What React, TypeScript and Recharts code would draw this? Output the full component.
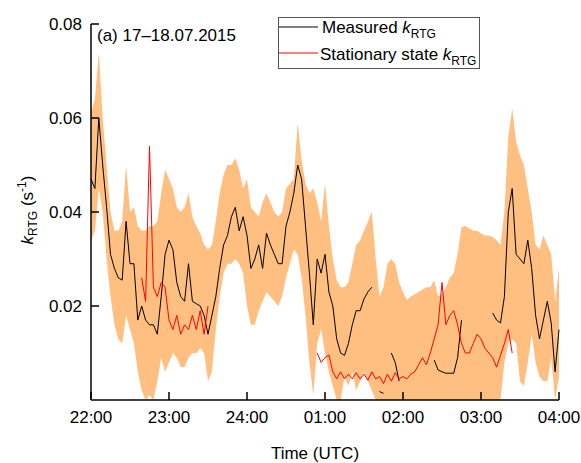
import React from "react";
import { ComposedChart, Area, Line, XAxis, YAxis } from "recharts";

// minutes after 22:00, 3-minute steps
const minutes = [
  0, 3, 6, 9, 12, 15, 18, 21, 24, 27, 30, 33, 36, 39, 42, 45, 48, 51, 54, 57,
  60, 63, 66, 69, 72, 75, 78, 81, 84, 87, 90, 93, 96, 99, 102, 105, 108, 111, 114, 117,
  120, 123, 126, 129, 132, 135, 138, 141, 144, 147, 150, 153, 156, 159, 162, 165, 168, 171, 174, 177,
  180, 183, 186, 189, 192, 195, 198, 201, 204, 207, 210, 213, 216, 219, 222, 225, 228, 231, 234, 237,
  240, 243, 246, 249, 252, 255, 258, 261, 264, 267, 270, 273, 276, 279, 282, 285, 288, 291, 294, 297,
  300, 303, 306, 309, 312, 315, 318, 321, 324, 327, 330, 333, 336, 339, 342, 345, 348, 351, 354, 357,
  360,
];

// upper / lower bound of the uncertainty range
const upper = [
  0.061, 0.064, 0.074, 0.06, 0.05, 0.04, 0.036, 0.036, 0.038, 0.05,
  0.04, 0.041, 0.037, 0.036, 0.036, 0.037, 0.037, 0.038, 0.044, 0.049,
  0.047, 0.045, 0.041, 0.04, 0.041, 0.044, 0.039, 0.037, 0.0355, 0.033,
  0.032, 0.033, 0.038, 0.044, 0.048, 0.05, 0.05, 0.0515, 0.049, 0.045,
  0.047, 0.041, 0.04, 0.039, 0.042, 0.044, 0.042, 0.04, 0.039, 0.04,
  0.045, 0.046, 0.047, 0.059, 0.051, 0.046, 0.044, 0.045, 0.042, 0.038,
  0.046, 0.037, 0.03, 0.0255, 0.024, 0.024, 0.025, 0.029, 0.033, 0.034,
  0.036, 0.038, 0.04, 0.03, 0.022, 0.024, 0.029, 0.03, 0.029, 0.025,
  0.023, 0.0213, 0.022, 0.0225, 0.023, 0.0235, 0.024, 0.024, 0.0255, 0.022,
  0.0225, 0.024, 0.026, 0.027, 0.031, 0.0368, 0.037, 0.0365, 0.036, 0.036,
  0.0355, 0.035, 0.035, 0.0347, 0.034, 0.033, 0.04, 0.056, 0.062, 0.055,
  0.052, 0.05, 0.045, 0.04, 0.033, 0.032, 0.035, 0.033, 0.031, 0.021,
  0.028,
];

const lower = [
  0.034, 0.036, 0.045, 0.04, 0.03, 0.022, 0.016, 0.013, 0.012, 0.018,
  0.015, 0.012, 0.006, 0.002, 0, 0.001, 0, 0.004, 0.009, 0.006,
  0.008, 0.01, 0.009, 0.007, 0.007, 0.009, 0.01, 0.01, 0.011, 0.01,
  0.004, 0.006, 0.015, 0.022, 0.027, 0.029, 0.029, 0.03, 0.029, 0.027,
  0.02, 0.016, 0.016, 0.019, 0.021, 0.023, 0.022, 0.021, 0.02, 0.022,
  0.026, 0.029, 0.032, 0.031, 0.026, 0.018, 0.008, 0.001, 0.012, 0.015,
  0.01, 0.006, 0.003, 0, 0, 0.005, 0.003, 0.006, 0.002, 0.004,
  0.006, 0.004, 0.002, 0, 0, 0, 0, 0, 0, 0,
  0, 0, 0, 0, 0, 0, 0, 0, 0, 0,
  0, 0, 0, 0, 0, 0, 0, 0, 0, 0,
  0, 0, 0, 0, 0, 0, 0.008, 0.012, 0.013, 0.012,
  0.004, 0.003, 0.008, 0.014, 0.008, 0.005, 0.004, 0.004, 0.009, 0,
  0.005,
];

const measured = [
  0.047, 0.045, 0.06, 0.05, 0.041, 0.031, 0.028, 0.026, 0.0255, 0.038,
  0.029, 0.029, 0.017, 0.02, 0.017, 0.016, 0.016, 0.014, 0.022, 0.031,
  0.034, 0.032, 0.025, 0.022, 0.021, 0.029, 0.021, 0.0205, 0.02, 0.018,
  0.014, 0.018, 0.022, 0.028, 0.033, 0.035, 0.039, 0.041, 0.036, 0.039,
  0.035, 0.028, 0.03, 0.033, 0.028, 0.0355, 0.033, 0.031, 0.029, 0.029,
  0.037, 0.04, 0.044, 0.05, 0.047, 0.037, 0.027, 0.016, 0.03, 0.027,
  0.031, 0.023, 0.02, 0.013, 0.01, 0.0095, 0.012, 0.016, 0.019, 0.019,
  0.0215, 0.023, 0.024, null, 0.0018, 0.0014, null, 0.01, 0.008, 0.004,
  null, null, null, null, null, null, null, null, 0.0085, 0.0064,
  0.006, 0.0057, 0.0057, 0.0057, 0.009, 0.017, null, null, null, null,
  null, null, null, 0.0185, 0.017, 0.0164, 0.022, 0.04, 0.045, 0.031,
  0.03, 0.029, 0.034, 0.028, 0.018, 0.013, 0.017, 0.021, 0.0164, 0.006,
  0.015,
];

const stationary = [
  null, null, null, null, null, null, null, null, null, null,
  null, null, null, 0.026, 0.021, 0.054, 0.024, 0.022, 0.025, 0.024,
  0.017, 0.015, 0.018, 0.014, 0.016, 0.015, 0.018, 0.015, 0.019, 0.014,
  0.02, null, null, null, null, null, null, null, null, null,
  null, null, null, null, null, null, null, null, null, null,
  null, null, null, null, null, null, null, null, 0.01, 0.008,
  0.009, 0.0096, 0.006, 0.0045, 0.006, 0.0045, 0.0055, 0.0045, 0.0058, 0.0045,
  0.0055, 0.0042, 0.006, 0.0045, 0.005, 0.0035, 0.0055, 0.004, 0.0058, 0.0045,
  0.005, 0.0045, 0.0055, 0.006, 0.0075, 0.009, 0.0075, 0.01, 0.013, 0.016,
  0.025, 0.016, 0.018, 0.019, 0.016, 0.012, 0.01, 0.01, 0.012, 0.014,
  0.013, 0.011, 0.01, 0.009, 0.007, 0.0095, 0.012, 0.015, 0.01, null,
  null, null, null, null, null, null, null, null, null, null,
  null,
];

const xTicks = [0, 60, 120, 180, 240, 300, 360];
const xTickLabels = ["22:00", "23:00", "24:00", "01:00", "02:00", "03:00", "04:00"];
const yTicks = [0.02, 0.04, 0.06, 0.08];

const data = minutes.map((t, i) => ({
  t,
  band: [lower[i], upper[i]],
  measured: measured[i],
  stationary: stationary[i],
}));

const FONT = "'Liberation Sans', Arial, sans-serif";

const YTick = (props: any) => {
  const { x, y, payload } = props;
  return (
    <g>
      <line x1={x} y1={y} x2={x + 8} y2={y} stroke="#000" strokeWidth={1.5} />
      <text x={x - 9} y={y + 6} textAnchor="end" fontSize={17} fontFamily={FONT} fill="#000">
        {Number(payload.value).toFixed(2)}
      </text>
    </g>
  );
};

const XTick = (props: any) => {
  const { x, y, payload } = props;
  const idx = xTicks.indexOf(payload.value);
  return (
    <g>
      <line x1={x} y1={y} x2={x} y2={y - 8} stroke="#000" strokeWidth={1.5} />
      <text x={x} y={y + 23} textAnchor="middle" fontSize={17} fontFamily={FONT} fill="#000">
        {xTickLabels[idx]}
      </text>
    </g>
  );
};

export default function App() {
  return (
    <div style={{ position: "absolute", left: 0, top: 0, width: 581, height: 463, background: "#fff" }}>
      <ComposedChart
        width={581}
        height={463}
        data={data}
        margin={{ top: 24, right: 22, left: 0, bottom: 0 }}
      >
        <XAxis
          dataKey="t"
          type="number"
          domain={[0, 360]}
          ticks={xTicks}
          height={63}
          tickSize={0}
          tickMargin={0}
          tickLine={false}
          tick={<XTick />}
          axisLine={{ stroke: "#000", strokeWidth: 1.5 }}
        />
        <YAxis
          type="number"
          domain={[0, 0.08]}
          ticks={yTicks}
          width={91}
          tickSize={0}
          tickMargin={0}
          tickLine={false}
          tick={<YTick />}
          axisLine={{ stroke: "#000", strokeWidth: 1.5 }}
        />
        <Area
          type="linear"
          dataKey="band"
          stroke="none"
          fill="#FEBF80"
          fillOpacity={1}
          isAnimationActive={false}
        />
        <Line
          type="linear"
          dataKey="measured"
          stroke="#000"
          strokeWidth={1}
          dot={false}
          connectNulls={false}
          isAnimationActive={false}
        />
        <Line
          type="linear"
          dataKey="stationary"
          stroke="#FF0000"
          strokeWidth={1}
          dot={false}
          connectNulls={false}
          isAnimationActive={false}
        />
      </ComposedChart>

      <svg
        width={581}
        height={463}
        style={{ position: "absolute", left: 0, top: 0, pointerEvents: "none" }}
        fontFamily={FONT}
      >
        <text x={97} y={41} fontSize={17} fill="#000">(a) 17–18.07.2015</text>

        {/* legend */}
        <rect x={278.5} y={17.5} width={201} height={51} fill="#fff" stroke="#555" strokeWidth={1} />
        <line x1={279} y1={27} x2={318} y2={27} stroke="#000" strokeWidth={1} />
        <line x1={279} y1={53} x2={318} y2={53} stroke="#FF0000" strokeWidth={1} />
        <text x={322} y={33} fontSize={17} fill="#000">
          Measured <tspan fontStyle="italic">k</tspan>
          <tspan fontSize={12} dy={5}>RTG</tspan>
        </text>
        <text x={320} y={60} fontSize={17} fill="#000">
          Stationary state <tspan fontStyle="italic">k</tspan>
          <tspan fontSize={12} dy={5}>RTG</tspan>
        </text>

        {/* axis titles */}
        <text transform="translate(33,210) rotate(-90)" textAnchor="middle" fontSize={17} fill="#000">
          <tspan fontStyle="italic">k</tspan>
          <tspan fontSize={12} dy={4}>RTG</tspan>
          <tspan dy={-4}> (s</tspan>
          <tspan fontSize={12} dy={-7}>-1</tspan>
          <tspan dy={7}>)</tspan>
        </text>
        <text x={315} y={459} textAnchor="middle" fontSize={17} fill="#000">Time (UTC)</text>
      </svg>
    </div>
  );
}
